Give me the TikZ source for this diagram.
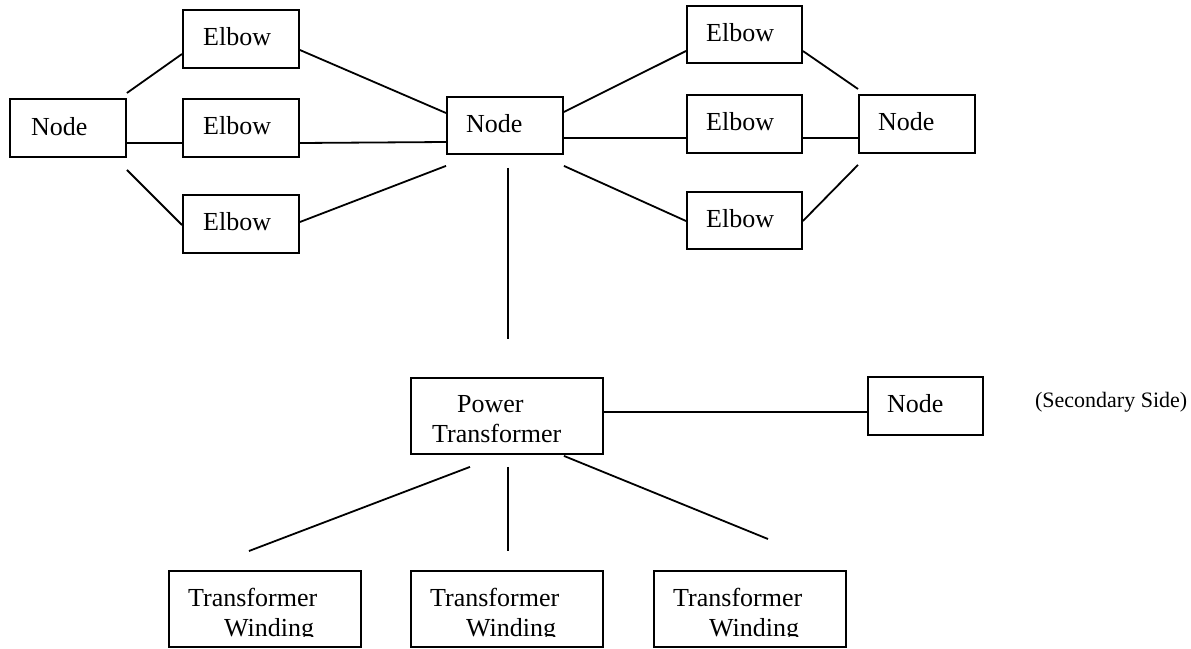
\documentclass[tikz,border=0pt]{standalone}
\usepackage{fontspec}
\setmainfont{Liberation Serif}
\usetikzlibrary{calc}
\tikzset{
  box/.style={draw, line width=1.9pt, rectangle, inner sep=0pt, anchor=north west},
  lbl/.style={anchor=base west, inner sep=0pt, font=\fontsize{26}{30}\selectfont},
  note/.style={anchor=base west, inner sep=0pt, font=\fontsize{22}{26}\selectfont},
  wire/.style={line width=1.8pt},
}
% \mkbox{name}{x}{y}{width}{height}
\newcommand\mkbox[5]{\node[box, minimum width=#4pt, minimum height=#5pt] (#1) at (#2,#3) {};}
\begin{document}
\begin{tikzpicture}[x=1pt,y=-1pt]
\useasboundingbox (0,0) rectangle (1191,648);

% ---- boxes
\mkbox{nl}{9}{98}{116}{58}
\mkbox{e1}{182}{9}{116}{58}
\mkbox{e2}{182}{98}{116}{58}
\mkbox{e3}{182}{194}{116}{58}
\mkbox{nc}{446}{96}{116}{57}
\mkbox{r1}{686}{5}{115}{57}
\mkbox{r2}{686}{94}{115}{58}
\mkbox{r3}{686}{191}{115}{57}
\mkbox{nr}{858}{94}{116}{58}
\mkbox{pt}{410}{377}{192}{76}
\mkbox{nb}{867}{376}{115}{58}
\mkbox{w1}{168}{570}{192}{76}
\mkbox{w2}{410}{570}{192}{76}
\mkbox{w3}{653}{570}{192}{76}

% ---- labels
\node[lbl] at ($(nl.north west)+(22,37)$) {Node};
\node[lbl] at ($(e1.north west)+(21,36)$) {Elbow};
\node[lbl] at ($(e2.north west)+(21,36)$) {Elbow};
\node[lbl] at ($(e3.north west)+(21,36)$) {Elbow};
\node[lbl] at ($(nc.north west)+(20,36)$) {Node};
\node[lbl] at ($(r1.north west)+(20,36)$) {Elbow};
\node[lbl] at ($(r2.north west)+(20,36)$) {Elbow};
\node[lbl] at ($(r3.north west)+(20,36)$) {Elbow};
\node[lbl] at ($(nr.north west)+(20,36)$) {Node};
\node[lbl] at ($(pt.north west)+(47,35)$) {Power};
\node[lbl] at ($(pt.north west)+(22,65)$) {Transformer};
\node[lbl] at ($(nb.north west)+(20,36)$) {Node};
\node[note] at ($(nb.north east)+(51,31)$) {(Secondary Side)};

% winding boxes: the text frame cuts off the second line
\foreach \w in {w1,w2,w3}{
  \begin{scope}
    \clip ($(\w.north west)$) rectangle ($(\w.south east)+(0,-11)$);
    \node[lbl] at ($(\w.north west)+(20,36)$) {Transformer};
    \node[lbl] at ($(\w.north west)+(56,66)$) {Winding};
  \end{scope}
}

% ---- connectors
\draw[wire] ($(nl.north east)+(0,-5)$) -- ($(e1.north west)+(0,45)$);
\draw[wire] ($(nl.north east)+(0,45)$) -- ($(e2.north west)+(0,45)$);
\draw[wire] ($(nl.south east)+(0,12)$) -- ($(e3.north west)+(0,31)$);

\draw[wire] ($(e1.north east)+(0,41)$) -- ($(nc.north west)+(0,17)$);
\draw[wire] ($(e2.north east)+(0,45)$) -- ($(nc.north west)+(0,46)$);
\draw[wire] ($(e3.north east)+(0,28)$) -- ($(nc.south west)+(0,11)$);

\draw[wire] ($(nc.north east)+(0,16)$) -- ($(r1.north west)+(0,46)$);
\draw[wire] ($(nc.north east)+(0,42)$) -- ($(r2.north west)+(0,44)$);
\draw[wire] ($(nc.south east)+(0,11)$) -- ($(r3.north west)+(0,30)$);

\draw[wire] ($(r1.north east)+(0,46)$) -- ($(nr.north west)+(0,-5)$);
\draw[wire] ($(r2.north east)+(0,44)$) -- ($(nr.north west)+(0,44)$);
\draw[wire] ($(r3.north east)+(0,30)$) -- ($(nr.south west)+(0,11)$);

\draw[wire] ($(nc.south)+(3,13)$) -- ($(pt.north)+(1,-38)$);
\draw[wire] ($(pt.north east)+(0,35)$) -- ($(nb.north west)+(0,36)$);

\draw[wire] ($(pt.south)+(-37,12)$) -- ($(w1.north)+(-16,-19)$);
\draw[wire] ($(pt.south)+(1,12)$) -- ($(w2.north)+(1,-19)$);
\draw[wire] ($(pt.south east)+(-40,1)$) -- ($(w3.north)+(18,-31)$);
\end{tikzpicture}
\end{document}
